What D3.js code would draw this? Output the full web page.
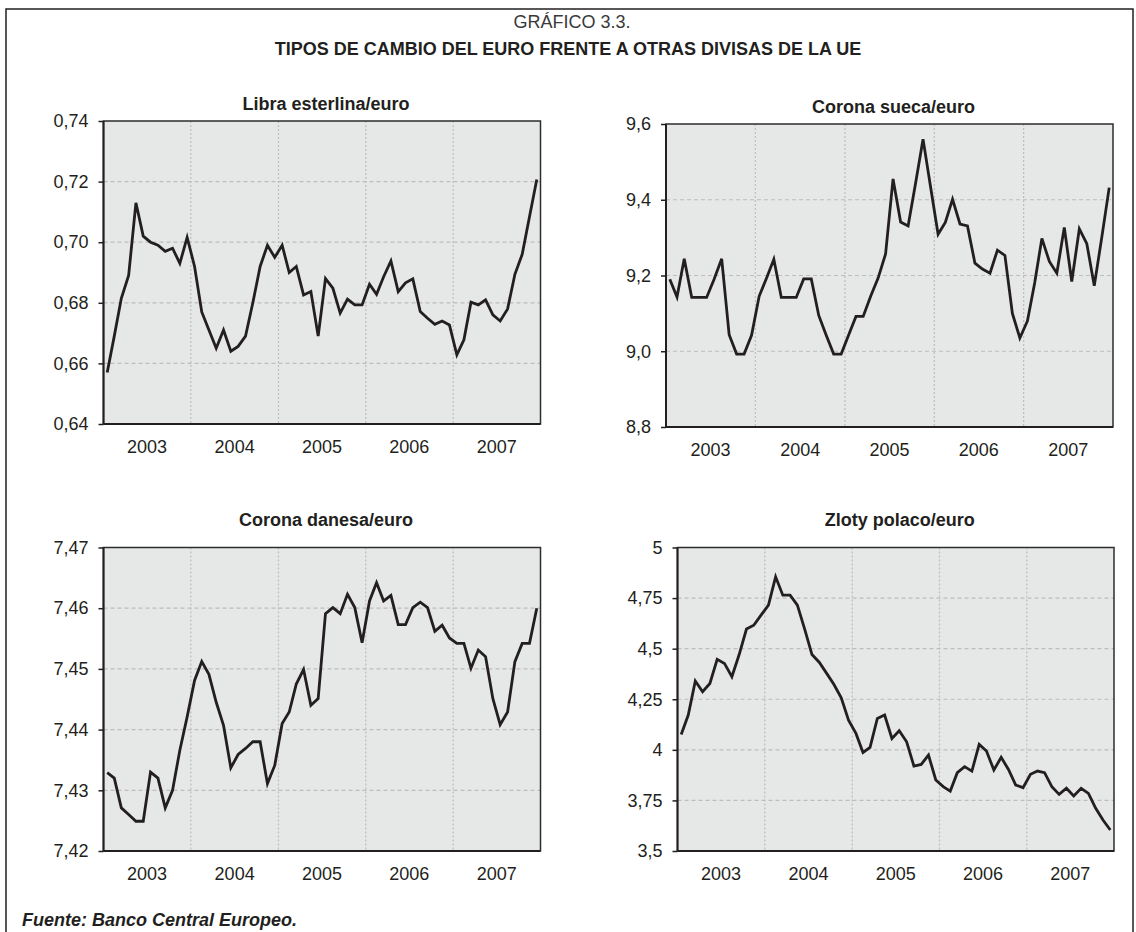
<!DOCTYPE html>
<html>
<head>
<meta charset="utf-8">
<script src="https://cdn.jsdelivr.net/npm/d3@7"></script>
<style>
body { margin: 0; background: #fff; }
svg text { font-family: "Liberation Sans", Arial, Helvetica, sans-serif; fill: #231f20; }
</style>
</head>
<body>
<svg id="chart" width="1136" height="932"></svg>
<script>
// monthly averages, Jan 2003 - Dec 2007
var libra = [0.657, 0.669, 0.6815, 0.689, 0.713, 0.702, 0.700, 0.699, 0.697, 0.698, 0.693, 0.7016,
    0.692, 0.677, 0.671, 0.665, 0.671, 0.664, 0.6656, 0.669, 0.680, 0.692, 0.699, 0.695,
    0.699, 0.690, 0.692, 0.6826, 0.6837, 0.669, 0.688, 0.6848, 0.6766, 0.6812, 0.6793, 0.6793,
    0.6861, 0.6828, 0.6886, 0.6938, 0.6837, 0.6866, 0.6879, 0.6771, 0.6749, 0.6729, 0.674, 0.6727,
    0.6628, 0.6678, 0.6802, 0.6793, 0.681, 0.676, 0.674, 0.678, 0.6894, 0.696, 0.7084, 0.7207];

var sueca = [9.19, 9.143, 9.244, 9.142, 9.142, 9.142, 9.19, 9.244, 9.0435, 8.9925, 8.9925, 9.042,
    9.145, 9.193, 9.243, 9.142, 9.142, 9.142, 9.191, 9.191, 9.0945, 9.042, 8.9925, 8.9925,
    9.0435, 9.092, 9.092, 9.145, 9.193, 9.257, 9.455, 9.341, 9.331, 9.4435, 9.560, 9.435,
    9.309, 9.34, 9.401, 9.336, 9.331, 9.2325, 9.217, 9.206, 9.267, 9.253, 9.10, 9.035,
    9.08, 9.18, 9.298, 9.237, 9.206, 9.327, 9.184, 9.323, 9.284, 9.173, 9.30, 9.432];

var danesa = [7.4329, 7.432, 7.4271, 7.426, 7.4249, 7.4249, 7.433, 7.432, 7.4271, 7.430, 7.4366, 7.4421,
    7.4481, 7.4512, 7.4491, 7.4445, 7.4407, 7.4337, 7.4359, 7.4369, 7.438, 7.438, 7.4311, 7.4341,
    7.441, 7.4429, 7.4475, 7.4499, 7.444, 7.4451, 7.4591, 7.4601, 7.4591, 7.4623, 7.4601, 7.4543,
    7.4612, 7.4642, 7.4612, 7.4621, 7.4573, 7.4573, 7.4601, 7.461, 7.4601, 7.4562, 7.4572, 7.4551,
    7.4542, 7.4542, 7.4501, 7.4531, 7.452, 7.4451, 7.4408, 7.4429, 7.4512, 7.4542, 7.4542, 7.46];

var zloty = [4.076, 4.172, 4.340, 4.287, 4.328, 4.447, 4.427, 4.361, 4.471, 4.597, 4.616, 4.666,
    4.715, 4.855, 4.7645, 4.7645, 4.715, 4.597, 4.471, 4.432, 4.378, 4.323, 4.257, 4.147,
    4.081, 3.987, 4.012, 4.155, 4.172, 4.056, 4.094, 4.04, 3.92, 3.928, 3.974, 3.851,
    3.818, 3.796, 3.887, 3.917, 3.895, 4.027, 3.994, 3.90, 3.963, 3.903, 3.826, 3.813,
    3.879, 3.895, 3.887, 3.818, 3.78, 3.81, 3.772, 3.81, 3.785, 3.711, 3.653, 3.604];

var libraTicks = [0.64, 0.66, 0.68, 0.70, 0.72, 0.74];
var suecaTicks = [8.8, 9.0, 9.2, 9.4, 9.6];
var danesaTicks = [7.42, 7.43, 7.44, 7.45, 7.46, 7.47];
var zlotyTicks = [3.5, 3.75, 4, 4.25, 4.5, 4.75, 5];

var years = [2003, 2004, 2005, 2006, 2007];
var months = d3.timeMonth.range(new Date(2003, 0, 1), new Date(2008, 0, 1));

var panels = [
    { title: "Libra esterlina/euro", values: libra, ticks: libraTicks, fmt: ".2f",
      left: 103.5, right: 540.5, top: 121, bottom: 424 },
    { title: "Corona sueca/euro", values: sueca, ticks: suecaTicks, fmt: ".1f",
      left: 666, right: 1113, top: 124, bottom: 427 },
    { title: "Corona danesa/euro", values: danesa, ticks: danesaTicks, fmt: ".2f",
      left: 103.5, right: 540.5, top: 547.5, bottom: 851 },
    { title: "Zloty polaco/euro", values: zloty, ticks: zlotyTicks, fmt: null,
      left: 677.5, right: 1114, top: 547.5, bottom: 851 }
];

var svg = d3.select("#chart");

// outer frame
svg.append("rect")
    .attr("x", 6)
    .attr("y", 9)
    .attr("width", 1127)
    .attr("height", 960)
    .attr("fill", "none")
    .attr("stroke", "#231f20")
    .attr("stroke-width", 1.5);

svg.append("text")
    .attr("x", 572)
    .attr("y", 28)
    .attr("text-anchor", "middle")
    .style("font-size", "18px")
    .style("fill", "#3a3a3a")
    .text("GRÁFICO 3.3.");

svg.append("text")
    .attr("x", 568)
    .attr("y", 55)
    .attr("text-anchor", "middle")
    .style("font-size", "18px")
    .style("font-weight", "bold")
    .text("TIPOS DE CAMBIO DEL EURO FRENTE A OTRAS DIVISAS DE LA UE");

svg.append("text")
    .attr("x", 22)
    .attr("y", 926)
    .style("font-size", "18px")
    .style("font-weight", "bold")
    .style("font-style", "italic")
    .text("Fuente: Banco Central Europeo.");

var drawPanel = function(p) {
    var g = svg.append("g");

    var x = d3.scaleTime()
        .domain([new Date(2003, 0, 1), new Date(2008, 0, 1)])
        .range([p.left, p.right]);
    var y = d3.scaleLinear()
        .domain(d3.extent(p.ticks))
        .range([p.bottom, p.top]);

    var fmt = p.fmt ? d3.format(p.fmt) : function(d) { return String(d); };

    g.append("rect")
        .attr("x", p.left)
        .attr("y", p.top)
        .attr("width", p.right - p.left)
        .attr("height", p.bottom - p.top)
        .attr("fill", "#e6e7e7");

    // horizontal dashed grid
    g.selectAll(".hgrid")
        .data(p.ticks.slice(1, -1))
        .enter()
        .append("line")
        .attr("class", "hgrid")
        .attr("x1", p.left)
        .attr("x2", p.right)
        .attr("y1", function(d) { return y(d); })
        .attr("y2", function(d) { return y(d); })
        .attr("stroke", "#bdbdbd")
        .attr("stroke-width", 1.2)
        .attr("stroke-dasharray", "4,3");

    // vertical dotted grid at year changes
    g.selectAll(".vgrid")
        .data(years.slice(1))
        .enter()
        .append("line")
        .attr("class", "vgrid")
        .attr("x1", function(d) { return x(new Date(d, 0, 1)); })
        .attr("x2", function(d) { return x(new Date(d, 0, 1)); })
        .attr("y1", p.top)
        .attr("y2", p.bottom)
        .attr("stroke", "#bdbdbd")
        .attr("stroke-width", 1.2)
        .attr("stroke-dasharray", "2,2");

    g.append("rect")
        .attr("x", p.left)
        .attr("y", p.top)
        .attr("width", p.right - p.left)
        .attr("height", p.bottom - p.top)
        .attr("fill", "none")
        .attr("stroke", "#2d2d2d")
        .attr("stroke-width", 1.5);

    var yAxis = d3.axisLeft(y)
        .tickValues(p.ticks)
        .tickSize(5)
        .tickPadding(10)
        .tickFormat(function(d) { return fmt(d).replace(".", ","); });

    var ya = g.append("g")
        .attr("transform", "translate(" + p.left + ",0)")
        .call(yAxis);
    ya.select(".domain").remove();
    ya.selectAll(".tick line").attr("stroke", "#231f20").attr("stroke-width", 1.5);
    ya.selectAll(".tick text").style("font-size", "18px");

    g.append("line")
        .attr("x1", p.left).attr("x2", p.left)
        .attr("y1", p.top).attr("y2", p.bottom)
        .attr("stroke", "#231f20")
        .attr("stroke-width", 2);
    g.append("line")
        .attr("x1", p.left).attr("x2", p.right)
        .attr("y1", p.bottom).attr("y2", p.bottom)
        .attr("stroke", "#231f20")
        .attr("stroke-width", 2);

    g.selectAll(".year")
        .data(years)
        .enter()
        .append("text")
        .attr("class", "year")
        .attr("x", function(d) { return x(new Date(d, 6, 2)); })
        .attr("y", p.bottom + 29)
        .attr("text-anchor", "middle")
        .style("font-size", "18px")
        .text(function(d) { return d; });

    g.append("text")
        .attr("x", (p.left + p.right) / 2 + 4)
        .attr("y", p.top - (p.top > 500 ? 22 : 11))
        .attr("text-anchor", "middle")
        .style("font-size", "18px")
        .style("font-weight", "bold")
        .text(p.title);

    var line = d3.line()
        .x(function(d, i) {
            return (x(months[i]) + x(d3.timeMonth.offset(months[i], 1))) / 2;
        })
        .y(function(d) { return y(d); });

    g.append("path")
        .datum(p.values)
        .attr("d", line)
        .attr("fill", "none")
        .attr("stroke", "#231f20")
        .attr("stroke-width", 2.8)
        .attr("stroke-linejoin", "miter");
};

panels.forEach(drawPanel);
</script>
</body>
</html>
